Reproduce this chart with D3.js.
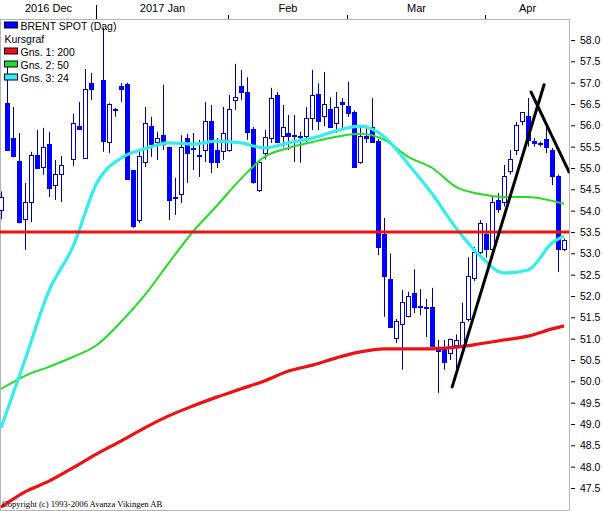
<!DOCTYPE html>
<html>
<head>
<meta charset="utf-8">
<script src="https://cdn.jsdelivr.net/npm/d3@7"></script>
<style>
  body { margin: 0; background: #fff; }
  svg  { display: block; }
  text { font-family: "Liberation Sans", Arial, sans-serif; fill: #000; }
</style>
</head>
<body>
<svg id="chart" width="604" height="511"></svg>
<script>
// ── data: one slot per weekday, starting 2016-12-09 (null = no trading) ──────
const open  = [54.00,56.52,55.70,55.15,53.80,54.18,55.30,55.02,55.56,54.58,54.84,null,55.21,55.98,55.23,56.99,null,
               57.06,55.59,56.36,56.90,56.95,54.93,53.78,55.14,55.98,55.59,55.77,55.47,54.30,54.37,55.70,55.45,55.29,
               55.40,56.08,55.40,55.38,55.40,56.59,56.92,56.78,55.91,54.48,55.35,55.70,56.71,55.73,55.80,55.76,55.75,
               55.73,56.15,56.73,56.20,56.38,56.05,56.53,56.45,56.31,55.14,55.75,55.94,55.63,53.43,52.38,51.00,51.34,
               51.53,52.07,51.76,51.73,51.72,50.80,50.74,50.66,50.85,50.81,51.44,52.42,53.03,53.45,53.08,54.25,54.18,
               54.91,55.42,56.08,56.20,55.62,55.58,55.66,55.42,54.79,53.08];
const high  = [54.45,57.48,56.43,55.82,54.65,55.38,55.89,55.94,55.85,55.19,55.28,null,56.27,56.55,57.32,57.23,null,
               58.28,56.52,56.41,56.99,57.00,54.95,55.38,56.43,56.20,55.85,56.95,55.50,54.77,55.77,55.80,55.82,55.66,
               56.55,56.48,55.70,56.43,56.71,57.44,57.30,57.13,55.96,55.19,55.89,56.88,56.78,56.48,56.24,56.24,55.85,
               56.43,57.30,56.99,57.25,56.66,56.78,56.64,57.02,56.35,56.00,56.00,56.64,55.68,53.83,53.00,51.46,52.14,
               52.10,52.63,52.16,51.93,52.19,50.97,50.97,51.00,51.10,51.84,52.91,53.15,53.78,53.71,54.32,54.41,55.07,
               55.42,56.08,56.31,56.64,55.70,55.62,55.96,55.47,54.85,53.35];
const low   = [53.80,55.40,55.25,53.70,53.08,53.73,54.98,54.84,54.32,54.25,54.20,null,55.05,55.89,55.23,56.59,null,
               55.38,55.35,56.20,56.55,54.72,53.59,53.71,55.02,55.26,55.19,55.42,53.78,53.90,54.18,54.65,54.95,54.79,
               55.14,54.88,55.00,55.19,55.38,56.36,56.59,55.66,54.63,54.44,55.20,55.59,55.59,55.49,55.42,55.14,55.12,
               55.61,55.89,55.89,55.98,55.94,55.82,55.94,56.20,55.00,55.10,55.59,55.59,52.96,51.51,51.25,50.90,50.27,
               51.50,51.60,51.55,51.04,50.80,49.73,50.27,50.50,50.30,50.75,51.40,52.35,52.95,52.90,52.95,53.95,54.10,
               54.85,55.30,56.00,55.50,55.50,55.50,55.35,54.60,52.56,53.05];
const close = [54.30,55.42,55.26,53.72,54.18,55.30,55.00,55.49,54.53,54.84,55.05,null,56.05,55.91,56.85,56.85,null,
               55.61,56.48,56.34,56.85,54.74,53.62,55.26,56.05,55.56,55.70,55.56,54.25,54.28,55.47,55.35,55.44,55.26,
               56.08,55.12,55.12,55.82,56.38,56.66,56.78,55.84,54.65,55.14,55.72,56.64,55.59,55.96,55.73,55.75,55.73,
               56.15,56.69,56.08,56.48,55.96,56.41,56.50,56.27,55.02,55.75,55.70,55.59,53.13,52.45,51.27,51.41,51.84,
               52.00,51.72,51.74,51.72,50.81,50.70,50.45,50.99,50.95,51.37,52.45,53.03,53.71,53.08,54.18,54.02,54.79,
               55.19,56.00,56.29,55.65,55.58,55.57,55.47,54.79,53.08,53.31];

// moving averages at every 4th slot
const maSlots = [0,4,8,12,16,20,24,28,32,36,40,44,48,52,56,60,64,68,72,76,80,84,88,92,94];
const ma200   = [47.05,47.41,47.66,47.97,48.30,48.60,48.91,49.19,49.42,49.63,49.82,50.01,50.24,
                 50.38,50.55,50.69,50.76,50.76,50.76,50.80,50.88,50.97,51.06,51.23,51.30];
const ma50    = [49.82,50.13,50.34,50.57,50.85,51.39,52.02,52.77,53.50,54.11,54.74,55.26,55.47,
                 55.61,55.73,55.80,55.66,55.26,55.00,54.55,54.39,54.32,54.32,54.23,54.16];
const ma24    = [48.91,50.50,52.12,53.15,54.65,55.23,55.45,55.59,55.56,55.63,55.59,55.47,55.59,
                 55.70,55.87,55.98,55.73,55.09,54.39,53.59,52.94,52.54,52.61,53.24,53.41];

const levelLine = 53.5;

// hand-drawn trend lines: start/end slot and price
const trendSlotA  = [75.33, 88.5];
const trendPriceA = [49.87, 56.78];
const trendSlotB  = [90.67, 94.83];
const trendPriceB = [56.95, 54.91];

const monthNames  = ['2016 Dec', '2017 Jan', 'Feb', 'Mar', 'Apr'];
const monthStarts = [-1, 16, 38, 58, 81];

const yTicks = d3.range(47.5, 58.01, 0.5);

const legendNames  = ['BRENT SPOT (Dag)', 'Kursgraf', 'Gns. 1: 200', 'Gns. 2: 50', 'Gns. 3: 24'];
const legendColors = ['#0000ff', null, '#ee1111', '#22dd22', '#33eeee'];

// ── layout ───────────────────────────────────────────────────────────────────
const plot = { left: 0, top: 19, right: 569.5, bottom: 510 };

const x = d3.scaleLinear().domain([-1 / 6, 569 / 6]).range([0, 569]);
const y = d3.scaleLinear().domain([47.5, 58.0]).range([488, 40]);

const svg = d3.select('#chart');

svg.append('defs').append('clipPath').attr('id', 'clip')
  .append('rect')
    .attr('x', plot.left).attr('y', plot.top)
    .attr('width', plot.right - plot.left).attr('height', plot.bottom - plot.top);

// frame
svg.append('rect')
  .attr('x', 0.5).attr('y', plot.top + 0.5)
  .attr('width', plot.right - 0.5).attr('height', plot.bottom - plot.top)
  .attr('fill', 'none').attr('stroke', '#b4b4b4');

const g = svg.append('g').attr('clip-path', 'url(#clip)');

// ── candles ──────────────────────────────────────────────────────────────────
const candles = open.map((o, i) => ({ i, o, h: high[i], l: low[i], c: close[i] }))
  .filter(d => d.o != null);

g.selectAll('.wick').data(candles).join('line')
  .attr('class', 'wick')
  .attr('x1', d => Math.round(x(d.i)) + 0.5)
  .attr('x2', d => Math.round(x(d.i)) + 0.5)
  .attr('y1', d => y(d.h))
  .attr('y2', d => y(d.l))
  .attr('stroke', '#000099')
  .attr('stroke-width', 1);

g.selectAll('.body').data(candles).join('rect')
  .attr('class', 'body')
  .attr('x', d => Math.round(x(d.i)) - 1.5)
  .attr('width', 4)
  .attr('y', d => y(Math.max(d.o, d.c)))
  .attr('height', d => Math.max(1, Math.abs(y(d.o) - y(d.c))))
  .attr('fill', d => d.c >= d.o ? '#fff' : '#0000ff')
  .attr('stroke', d => d.c >= d.o ? '#0000cc' : '#0000ff')
  .attr('stroke-width', 1)
  .attr('shape-rendering', 'crispEdges');

// ── moving averages ──────────────────────────────────────────────────────────
const maLine = d3.line()
  .x(d => x(d[0]))
  .y(d => y(d[1]))
  .curve(d3.curveMonotoneX);

[[ma200, '#ee1111', 3.2], [ma50, '#22dd22', 2], [ma24, '#33eeee', 3.2]].forEach(([vals, col, w]) => {
  g.append('path')
    .datum(maSlots.map((s, k) => [s, vals[k]]))
    .attr('d', maLine)
    .attr('fill', 'none')
    .attr('stroke', col)
    .attr('stroke-width', w)
    .attr('stroke-linejoin', 'round');
});

// horizontal level
g.append('line')
  .attr('x1', 0).attr('x2', plot.right)
  .attr('y1', y(levelLine)).attr('y2', y(levelLine))
  .attr('stroke', '#ee1111').attr('stroke-width', 3);

// trend lines
trendSlotA.forEach((s, k) => {
  g.append('line')
    .attr('x1', x(s)).attr('y1', y(trendPriceA[k]))
    .attr('x2', x(trendSlotB[k])).attr('y2', y(trendPriceB[k]))
    .attr('stroke', '#000').attr('stroke-width', 3)
    .attr('stroke-linecap', 'round');
});

// ── right axis ───────────────────────────────────────────────────────────────
svg.append('g')
  .attr('transform', `translate(${plot.right + 1.5},0)`)
  .call(d3.axisRight(y).tickValues(yTicks).tickFormat(d3.format('.1f')).tickSize(4).tickPadding(5))
  .call(a => a.select('.domain').remove())
  .call(a => a.selectAll('.tick line').attr('stroke', '#000'))
  .call(a => a.selectAll('.tick text')
    .attr('font-family', '"Liberation Sans", Arial, sans-serif')
    .attr('font-size', 10.5)
    .attr('fill', '#000'));

// ── top month axis ───────────────────────────────────────────────────────────
const tickX = s => Math.max(0, Math.round(x(s)) - 1) + 0.5;

monthStarts.forEach((s, k) => {
  const x0 = tickX(s);
  const x1 = k < monthStarts.length - 1 ? tickX(monthStarts[k + 1]) : plot.right;
  if (s >= 0) {
    svg.append('line')
      .attr('x1', x0).attr('x2', x0)
      .attr('y1', monthNames[k].startsWith('20') ? 5 : 15)
      .attr('y2', plot.top)
      .attr('stroke', '#000');
  }
  svg.append('text')
    .attr('x', (x0 + x1) / 2)
    .attr('y', 12)
    .attr('text-anchor', 'middle')
    .attr('font-size', 11)
    .text(monthNames[k]);
});

// ── legend ───────────────────────────────────────────────────────────────────
const legend = svg.append('g');
legendNames.forEach((name, k) => {
  const base = 29.5 + k * 13;
  if (legendColors[k]) {
    legend.append('rect')
      .attr('x', 4.5).attr('y', base - 7.5)
      .attr('width', 13).attr('height', 6)
      .attr('fill', legendColors[k])
      .attr('stroke', '#000040');
  }
  legend.append('text')
    .attr('x', legendColors[k] ? 20.5 : 4.5)
    .attr('y', base)
    .attr('font-size', 10.5)
    .text(name);
});

// copyright
svg.append('text')
  .attr('x', 2).attr('y', 507)
  .attr('font-family', '"Liberation Serif", "Times New Roman", serif')
  .attr('style', 'font-family:"Liberation Serif","Times New Roman",serif')
  .attr('font-size', 8.6)
  .text('Copyright (c) 1993-2006 Avanza Vikingen AB');
</script>
</body>
</html>
